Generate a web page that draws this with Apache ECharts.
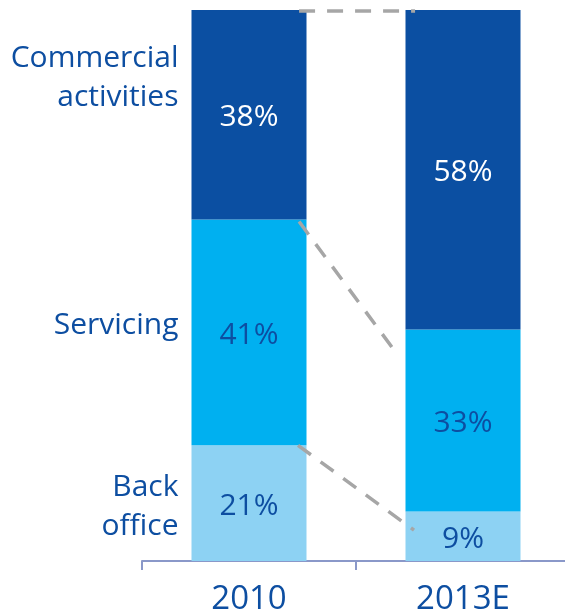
<!DOCTYPE html>
<html>
<head>
<meta charset="utf-8">
<script src="https://cdn.jsdelivr.net/npm/echarts@6/dist/echarts.min.js"></script>
<style>
  html, body { margin: 0; padding: 0; background: #fff; overflow: hidden; }
  #chart { width: 570px; height: 616px; }
</style>
</head>
<body>
<div id="chart"></div>
<script>
// Share of activity by type, 2010 vs 2013 estimate (%)
const years = ['2010', '2013E'];
const segmentNames = ['Back office', 'Servicing', 'Commercial activities'];
const segmentLabels = ['Back\noffice', 'Servicing', 'Commercial\nactivities'];
const backOffice = [21, 9];
const servicing = [41, 33];
const commercial = [38, 58];

// Dashed connector lines between the two columns: [x on 0..2 scale, value %]
const connectorTop = [[0.734, 99.8], [1.276, 99.8]];
const connectorMid = [[0.734, 61.6], [1.168, 38.8]];
const connectorLow = [[0.729, 21.0], [1.271, 5.6]];

const DARK = '#0b4fa2';
const TEXT = '#0d4ea1';
const FONT = '"Open Sans", "Noto Sans", sans-serif';
const colors = ['#8dd2f3', '#00b0f0', DARK];
const valueLabelColors = [TEXT, TEXT, '#ffffff'];
const seriesValues = [backOffice, servicing, commercial];

const chart = echarts.init(document.getElementById('chart'));

const barSeries = seriesValues.map((vals, i) => ({
  type: 'bar',
  name: segmentNames[i],
  stack: 'share',
  barWidth: 115,
  data: vals,
  itemStyle: { color: colors[i] },
  label: {
    show: true,
    position: 'inside',
    offset: [0, 3],
    formatter: p => p.value + '%',
    color: valueLabelColors[i],
    fontFamily: FONT,
    fontSize: 30
  },
  z: 2
}));

// Category names beside the 2010 column, anchored at each segment's middle
const nameOffsets = [[0, 4], [0, -7], [0, -37]];
const nameData = seriesValues.map((vals, i) => {
  let below = 0;
  for (let k = 0; k < i; k++) below += seriesValues[k][0];
  return {
    value: [years[0], below + vals[0] / 2],
    name: segmentLabels[i],
    label: { offset: nameOffsets[i] }
  };
});

const connectorStyle = {
  type: 'line',
  xAxisIndex: 1,
  symbol: 'none',
  silent: true,
  lineStyle: { color: '#a6a6a6', width: 3.5, type: [16, 12], cap: 'butt' },
  z: 5
};

chart.setOption({
  animation: false,
  grid: { left: 142, top: 10, right: 0, height: 552 },
  xAxis: [{
    type: 'category',
    data: years,
    axisLine: { show: true, lineStyle: { color: '#8a98c9', width: 2 } },
    axisTick: { show: true, length: 9, lineStyle: { color: '#8a98c9', width: 2 } },
    axisLabel: { color: TEXT, fontFamily: FONT, fontSize: 33, margin: 22 },
    splitLine: { show: false }
  }, {
    type: 'value',
    min: 0,
    max: 2,
    show: false
  }],
  yAxis: {
    type: 'value',
    min: 0,
    max: 100,
    show: false
  },
  series: [
    ...barSeries,
    {
      type: 'scatter',
      symbolSize: 1,
      itemStyle: { color: 'rgba(0,0,0,0)', opacity: 1 },
      silent: true,
      data: nameData,
      label: {
        show: true,
        position: 'left',
        distance: 70,
        align: 'right',
        formatter: p => p.name,
        color: TEXT,
        fontFamily: FONT,
        fontSize: 30,
        lineHeight: 39
      }
    },
    Object.assign({ data: connectorTop }, connectorStyle),
    Object.assign({ data: connectorMid }, connectorStyle),
    Object.assign({ data: connectorLow }, connectorStyle)
  ]
});
</script>
</body>
</html>
